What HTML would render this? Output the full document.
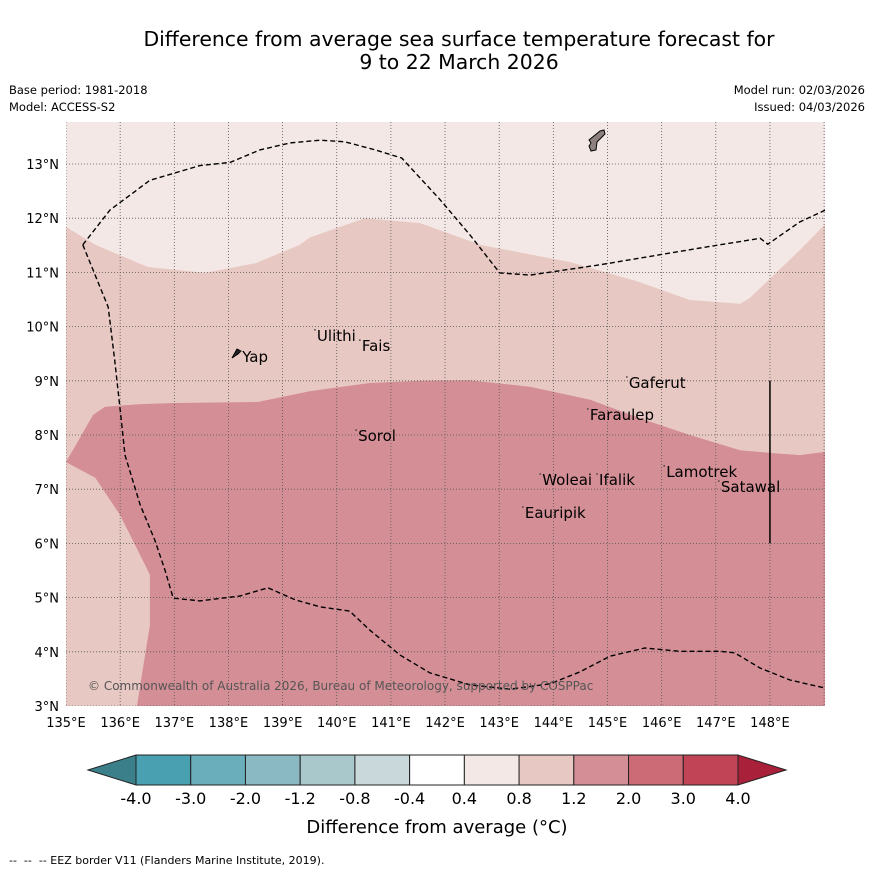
<!DOCTYPE html>
<html><head><meta charset="utf-8"><style>
body{margin:0;background:#fff;font-family:"DejaVu Sans","Liberation Sans",sans-serif;}
#w{position:relative;width:873px;height:873px;overflow:hidden;background:#fff}
.t{position:absolute;white-space:nowrap}
</style></head><body>
<div id="w">
<div class="t" style="left:0;width:918px;text-align:center;top:28px;font-size:20.4px;line-height:23px;color:#000">Difference from average sea surface temperature forecast for<br>9 to 22 March 2026</div>
<div class="t" style="left:9px;top:83px;font-size:11.5px">Base period: 1981-2018</div>
<div class="t" style="left:9px;top:100px;font-size:11.5px">Model: ACCESS-S2</div>
<div class="t" style="right:8px;top:83px;font-size:11.5px">Model run: 02/03/2026</div>
<div class="t" style="right:8px;top:100px;font-size:11.5px">Issued: 04/03/2026</div>
<div class="t" style="left:9px;top:854px;font-size:11px">-- &nbsp;-- &nbsp;-- EEZ border V11 (Flanders Marine Institute, 2019).</div>
<svg id="s" width="873" height="873" style="position:absolute;left:0;top:0"></svg>
</div>
<script>
const lonTicks=[135,136,137,138,139,140,141,142,143,144,145,146,147,148];
const latTicks=[3,4,5,6,7,8,9,10,11,12,13];
const upperLon=[135.00,135.54,136.51,137.57,138.50,139.32,139.51,140.52,141.54,142.65,144.31,145.60,146.52,147.45,147.63,148.55,149.02];
const upperLat=[11.84,11.51,11.10,10.99,11.17,11.51,11.65,12.00,11.91,11.51,11.19,10.82,10.49,10.42,10.53,11.41,11.89];
const lowerLon=[135.00,135.50,135.72,136.37,137.01,138.55,139.51,140.61,141.54,142.46,143.57,144.68,145.60,146.52,147.45,148.00,148.55,149.02];
const lowerLat=[7.50,8.37,8.52,8.57,8.59,8.61,8.81,8.96,9.00,9.01,8.89,8.65,8.31,8.00,7.72,7.67,7.63,7.69];
const swLon=[136.31,136.55,136.55,136.46,136.00,135.54,135.00];
const swLat=[3.00,4.49,5.42,5.60,6.52,7.21,7.50];
const eezALon=[135.31,135.81,136.55,137.47,138.03,138.58,139.14,139.69,140.15,140.71,141.20,141.91,142.46,143.01,143.57,144.86,146.71,147.82,147.96,148.55,149.02];
const eezALat=[11.51,12.15,12.70,12.97,13.03,13.26,13.39,13.44,13.41,13.26,13.11,12.34,11.69,10.99,10.95,11.14,11.45,11.63,11.52,11.93,12.15];
const eezBLon=[135.31,135.78,135.90,136.00,136.09,136.37,136.64,136.83,136.98,137.47,138.21,138.73,139.23,139.69,140.24,140.61,141.17,141.72,142.46,143.20,143.94,144.49,145.05,145.69,146.34,147.08,147.35,147.82,148.37,149.02];
const eezBLat=[11.51,10.36,9.38,8.46,7.63,6.71,6.06,5.50,4.99,4.94,5.03,5.18,4.96,4.83,4.75,4.40,3.94,3.61,3.39,3.31,3.41,3.63,3.92,4.07,4.01,4.01,3.98,3.70,3.48,3.33];
const placeNames=["Yap","Ulithi","Fais","Gaferut","Faraulep","Sorol","Woleai","Ifalik","Lamotrek","Satawal","Eauripik"];
const placeLon=[138.18,139.56,140.39,145.32,144.60,140.32,143.72,144.77,146.01,147.02,143.40];
const placeLat=[9.44,9.83,9.64,8.96,8.37,7.98,7.17,7.17,7.32,7.04,6.56];
const cbLabels=["-4.0","-3.0","-2.0","-1.2","-0.8","-0.4","0.4","0.8","1.2","2.0","3.0","4.0"];
const cbColors=["#48a0b0","#6aaebb","#8ab8c3","#a9c8cc","#c8d8db","#ffffff","#f4e8e6","#e8c8c2","#d48f96","#cc6b75","#c04455"];

const X0=66,X1=825,Y0=122,Y1=706;
const px=l=>66+(l-135)*54.15, py=l=>706-(l-3)*54.2;
const s=document.getElementById('s'),NS='http://www.w3.org/2000/svg';
function mk(t,a,p){const e=document.createElementNS(NS,t);for(const k in a)e.setAttribute(k,a[k]);(p||s).appendChild(e);return e;}
const pts=(lo,la)=>lo.map((v,i)=>px(v).toFixed(1)+','+py(la[i]).toFixed(1));
const defs=mk('defs',{});const cp=mk('clipPath',{id:'c'},defs);mk('rect',{x:X0,y:Y0,width:X1-X0,height:Y1-Y0},cp);
const g=mk('g',{'clip-path':'url(#c)'});
let e=mk('rect',{x:X0,y:Y0,width:X1-X0,height:Y1-Y0,fill:'#f4e8e6'},g);

e=mk('polygon',{points:pts(upperLon,upperLat).concat([X1+5+','+(Y1+5),(X0-5)+','+(Y1+5)]).join(' '),fill:'#e8c8c2'},g);

e=mk('polygon',{points:pts(lowerLon,lowerLat).concat([X1+5+','+(Y1+5)]).concat(pts(swLon,swLat)).join(' '),fill:'#d48f96'},g);

lonTicks.concat([149]).forEach(v=>{const l=mk('line',{x1:px(v),x2:px(v),y1:Y0,y2:Y1,stroke:'#555','stroke-width':0.8,'stroke-dasharray':'1,2'},g);});
latTicks.forEach(v=>{const l=mk('line',{x1:X0,x2:X1,y1:py(v),y2:py(v),stroke:'#555','stroke-width':0.8,'stroke-dasharray':'1,2'},g);});
[[eezALon,eezALat],[eezBLon,eezBLat]].forEach(a=>{const l=mk('polyline',{points:pts(a[0],a[1]).join(' '),fill:'none',stroke:'#000','stroke-width':1.4,'stroke-dasharray':'5,3'},g);});
e=mk('line',{x1:px(148),x2:px(148),y1:py(9),y2:py(6),stroke:'#000','stroke-width':1.5},g);

e=mk('path',{d:'M589,140 L600,131 L604,130 L605,134 L597,142 L596,150 L591,151 L589,146 L591,143 Z',fill:'#8f8080',stroke:'#000','stroke-width':1},g);

e=mk('path',{d:'M232,358 L237,349 L241,351 L238,354 Z',fill:'#222',stroke:'#000','stroke-width':1},g);

placeNames.forEach((n,i)=>{const t=mk('text',{x:px(placeLon[i])+4,y:py(placeLat[i])+5,'font-size':15,fill:'#000'},g);t.textContent=n;
const d=mk('circle',{cx:px(placeLon[i])+2,cy:py(placeLat[i])-6,r:0.8,fill:'#333'},g);});
e=mk('text',{x:88,y:690,'font-size':12,fill:'#555'},g);e.textContent='© Commonwealth of Australia 2026, Bureau of Meteorology, supported by COSPPac';

lonTicks.forEach(v=>{const t=mk('text',{x:px(v),y:727,'font-size':13,'text-anchor':'middle'});t.textContent=v+'°E';});
latTicks.forEach(v=>{const t=mk('text',{x:59,y:py(v)+5,'font-size':13,'text-anchor':'end'});t.textContent=v+'°N';});
const cbX0=136,cbX1=738,cbY=755,cbH=30,sw=(cbX1-cbX0)/cbColors.length;
e=mk('polygon',{points:`88,770 ${cbX0},${cbY} ${cbX0},${cbY+cbH}`,fill:'#3a7f8a',stroke:'#222','stroke-width':1});

e=mk('polygon',{points:`786,770 ${cbX1},${cbY} ${cbX1},${cbY+cbH}`,fill:'#a8203a',stroke:'#222','stroke-width':1});

cbColors.forEach((c,i)=>{const r=mk('rect',{x:cbX0+i*sw,y:cbY,width:sw,height:cbH,fill:c,stroke:'#222','stroke-width':1});});
cbLabels.forEach((l,i)=>{const t=mk('text',{x:cbX0+i*sw,y:804,'font-size':16,'text-anchor':'middle'});t.textContent=l;});
e=mk('text',{x:437,y:833,'font-size':18,'text-anchor':'middle'});e.textContent='Difference from average (°C)';

</script>
</body></html>
